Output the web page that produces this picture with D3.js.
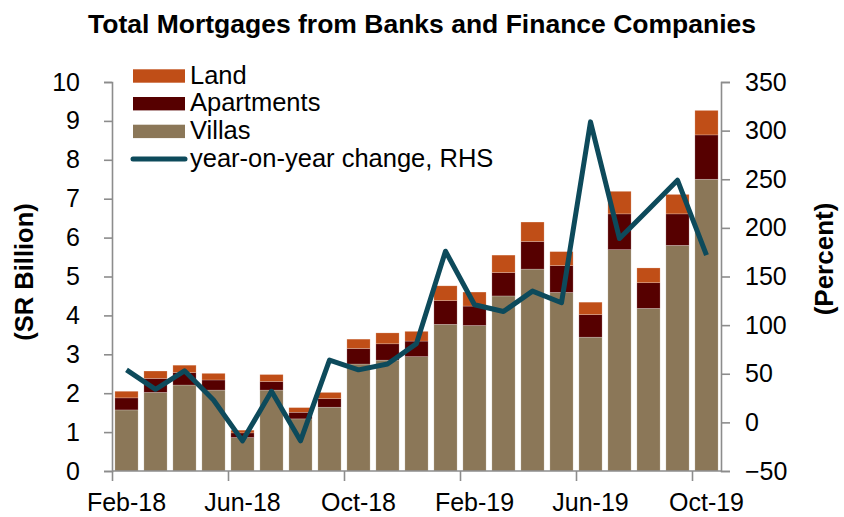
<!DOCTYPE html>
<html><head><meta charset="utf-8">
<script src="https://cdn.jsdelivr.net/npm/d3@7"></script>
<style>body{margin:0;background:#fff}svg{display:block;font-family:"Liberation Sans",Arial,sans-serif}</style>
</head><body><svg id="c" width="844" height="517"></svg>
<script>
const months = ["Feb-18","Mar-18","Apr-18","May-18","Jun-18","Jul-18","Aug-18","Sep-18","Oct-18","Nov-18","Dec-18","Jan-19","Feb-19","Mar-19","Apr-19","May-19","Jun-19","Jul-19","Aug-19","Sep-19","Oct-19"];
const villas = [1.57,2.02,2.21,2.08,0.86,2.08,1.34,1.64,2.75,2.85,2.94,3.77,3.74,4.50,5.19,4.59,3.44,5.69,4.18,5.80,7.50];
const apartments = [0.31,0.36,0.32,0.26,0.12,0.22,0.17,0.22,0.40,0.42,0.40,0.61,0.50,0.60,0.71,0.69,0.58,0.92,0.66,0.81,1.14];
const land = [0.17,0.19,0.19,0.17,0.07,0.18,0.12,0.16,0.24,0.28,0.25,0.38,0.36,0.45,0.50,0.36,0.32,0.58,0.38,0.50,0.63];
const yoy = [54,34,53,23,-19,32,-19,64,54,60,81,176,121,114,135,123,309,189,219,249,172];
const xTickLabels = ["Feb-18","Jun-18","Oct-18","Feb-19","Jun-19","Oct-19"];
const leftTicks = [0,1,2,3,4,5,6,7,8,9,10];
const rightTicks = [-50,0,50,100,150,200,250,300,350];

const svg = d3.select("#c");
const L = 112, R = 721, T = 82, B = 471;
const x = d3.scaleBand().domain(months).range([L, R]).paddingInner(0.2).paddingOuter(0.1);
const y = d3.scaleLinear().domain([0,10]).range([B, T]);
const y2 = d3.scaleLinear().domain([-50,350]).range([B, T]);

const colors = {villas:"#8b7758", apartments:"#560000", land:"#c04e17"};
const rows = months.map((m,i)=>({m, villas:villas[i], apartments:apartments[i], land:land[i]}));
const stack = d3.stack().keys(["villas","apartments","land"])(rows);

svg.append("g").selectAll("g").data(stack).join("g")
  .attr("fill", d=>colors[d.key])
  .selectAll("rect").data(d=>d).join("rect")
  .attr("x", d=>x(d.data.m)).attr("width", x.bandwidth())
  .attr("y", d=>y(d[1])).attr("height", d=>y(d[0])-y(d[1]))
  .attr("stroke","#ffffff").attr("stroke-opacity",0.35).attr("stroke-width",0.6);

// line
const line = d3.line().x((d,i)=>x(months[i])+x.bandwidth()/2).y(d=>y2(d));
svg.append("path").datum(yoy).attr("d", line).attr("fill","none")
  .attr("stroke","#0d4a5b").attr("stroke-width",5).attr("stroke-linejoin","round");

const axisColor = "#8c8c8c";
const FS = 25;
// left axis
const la = svg.append("g").attr("transform",`translate(${L},0)`)
  .call(d3.axisLeft(y).tickValues(leftTicks).tickSize(8).tickPadding(24).tickFormat(d3.format("d")));
// right axis
const ra = svg.append("g").attr("transform",`translate(${R},0)`)
  .call(d3.axisRight(y2).tickValues(rightTicks).tickSize(9).tickPadding(15).tickFormat(d3.format("d")));
// bottom axis
const step = x.step();
const bx = d3.scaleLinear().domain([0, months.length]).range([L, L + step*months.length]);
const ba = svg.append("g").attr("transform",`translate(0,${B})`)
  .call(d3.axisBottom(bx).tickValues([0,4,8,12,16,20]).tickSize(10).tickFormat(""));
ba.selectAll(".domain").attr("d", `M${L},0H${R}`);
[la,ra,ba].forEach(a=>{
  a.selectAll(".domain,line").attr("stroke",axisColor).attr("stroke-width",1.6);
  a.selectAll("text").attr("font-size",FS).attr("fill","#000").attr("font-family","Liberation Sans, Arial, sans-serif");
});
svg.append("g").selectAll("text").data(xTickLabels).join("text")
  .attr("x", d=>x(d)+x.bandwidth()/2).attr("y", 511)
  .attr("text-anchor","middle").attr("font-size",FS).text(d=>d);

// titles
svg.append("text").attr("x",422).attr("y",33).attr("text-anchor","middle")
  .attr("font-size",26.5).attr("font-weight","bold").text("Total Mortgages from Banks and Finance Companies");
svg.append("text").attr("transform","translate(33,272) rotate(-90)").attr("text-anchor","middle")
  .attr("font-size",25.5).attr("font-weight","bold").text("(SR Billion)");
svg.append("text").attr("transform","translate(833,259) rotate(-90)").attr("text-anchor","middle")
  .attr("font-size",26).attr("font-weight","bold").text("(Percent)");

// legend
const leg = [
  {t:"Land", c:colors.land, type:"rect"},
  {t:"Apartments", c:colors.apartments, type:"rect"},
  {t:"Villas", c:colors.villas, type:"rect"},
  {t:"year-on-year change, RHS", c:"#0d4a5b", type:"line"}
];
const lg = svg.append("g");
leg.forEach((d,i)=>{
  const cy = 76 + i*27.7;
  if(d.type==="rect") lg.append("rect").attr("x",133).attr("y",cy-6.7).attr("width",52).attr("height",13.4).attr("fill",d.c);
  else lg.append("line").attr("x1",133).attr("x2",185).attr("y1",cy).attr("y2",cy).attr("stroke",d.c).attr("stroke-width",5).attr("stroke-linecap","round");
  lg.append("text").attr("x",190).attr("y",cy+7.5).attr("font-size",25.5).text(d.t);
});
</script></body></html>
